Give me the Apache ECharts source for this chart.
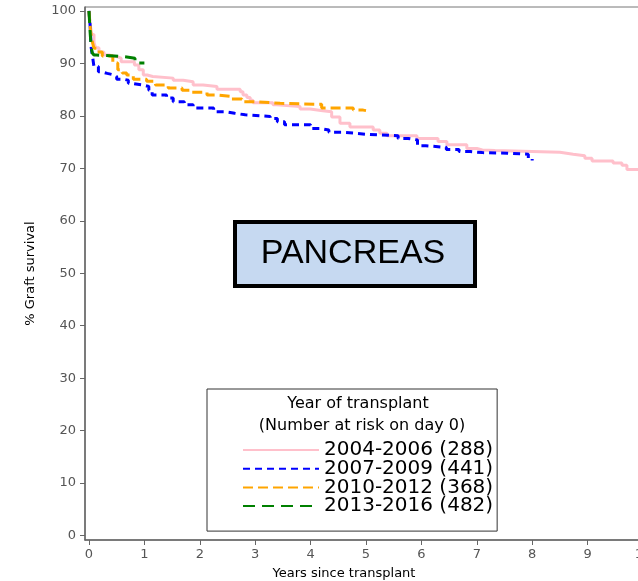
<!DOCTYPE html>
<html>
<head>
<meta charset="utf-8">
<script src="https://cdn.jsdelivr.net/npm/echarts@6/dist/echarts.min.js"></script>
<style>html,body{margin:0;padding:0;background:#fff}#c{width:638px;height:581px}</style>
</head>
<body>
<div id="c"></div>
<script>
const xTicks = [0,1,2,3,4,5,6,7,8,9,10];
const yTicks = [0,10,20,30,40,50,60,70,80,90,100];
const seriesNames = ['2004-2006 (288)','2007-2009 (441)','2010-2012 (368)','2013-2016 (482)'];

const s2004 = [[0,100],[0.02,97.5],[0.05,95.5],[0.09,94.0],[0.12,93.0],[0.18,92.2],[0.27,91.6],[0.36,91.3],[0.5,91.0],[0.58,90.3],[0.82,89.7],[0.9,88.8],[0.98,87.8],[1.05,87.5],[1.15,87.2],[1.52,86.8],[1.70,86.5],[1.88,85.9],[2.06,85.6],[2.31,85.1],[2.73,84.6],[2.78,84.0],[2.85,83.5],[2.91,83.0],[2.96,82.5],[3.32,82.1],[3.39,81.8],[3.81,81.3],[3.99,81.0],[4.22,80.8],[4.38,79.8],[4.53,78.6],[4.71,77.9],[5.13,77.3],[5.25,76.7],[5.38,76.2],[5.92,75.7],[6.30,75.1],[6.46,74.5],[6.82,73.8],[7.0,73.5],[7.1,73.4],[7.33,73.05],[8.5,72.7],[8.74,72.4],[8.95,71.9],[9.08,71.4],[9.46,71.0],[9.62,70.6],[9.71,69.8],[9.98,69.8]];
const s2007 = [[0,100],[0.02,97.3],[0.03,95],[0.04,93],[0.06,91.6],[0.09,89.4],[0.17,88.4],[0.23,88.1],[0.33,87.8],[0.45,87.5],[0.5,87.0],[0.62,86.8],[0.71,86.2],[0.78,85.9],[0.97,85.6],[1.08,84.9],[1.14,84.0],[1.40,83.4],[1.52,82.7],[1.72,82.1],[1.88,81.5],[2.25,80.8],[2.45,80.5],[2.63,80.2],[2.82,79.9],[3.27,79.5],[3.40,78.9],[3.53,78.3],[4.0,77.6],[4.18,77.3],[4.33,76.9],[4.56,76.7],[4.80,76.5],[5.0,76.2],[5.58,75.7],[5.76,75.4],[5.93,74.3],[6.08,74.0],[6.45,73.6],[6.68,73.2],[6.88,73.0],[7.1,72.9],[7.55,72.7],[7.93,71.9],[8.0,71.5]];
const s2010 = [[0,100],[0.01,98.5],[0.03,96],[0.06,94.1],[0.09,92.9],[0.14,92.2],[0.24,91.4],[0.43,90.1],[0.52,88.8],[0.6,88.2],[0.68,87.8],[0.8,87.0],[1.04,86.6],[1.2,85.9],[1.43,85.3],[1.68,84.9],[1.86,84.5],[2.13,84.0],[2.27,83.7],[2.58,83.2],[2.76,82.7],[3.03,82.4],[3.45,82.2],[4.2,81.5],[4.77,81.1],[4.95,81.0],[5.0,81.0]];
const s2013 = [[0,100],[0.01,98],[0.02,96],[0.03,94.5],[0.04,93],[0.06,92],[0.09,91.6],[0.13,91.3],[0.62,91.0],[0.83,90.5],[0.88,90.1],[1.0,90.1]];

const colors = ['#ffc0cb','#0000ff','#ffa500','#008000'];
const dashes = ['solid',[7,5],[10,5],[12,7]];
const data = [s2004,s2007,s2010,s2013];

const FONT = 'DejaVu Sans';
const chart = echarts.init(document.getElementById('c'), null, {renderer:'canvas'});
chart.setOption({
  animation:false,
  backgroundColor:'#fff',
  legend:{
    orient:'vertical', left:207, top:389,
    padding:[51,4,15,35],
    borderColor:'#333', borderWidth:1, backgroundColor:'#fff',
    itemWidth:76, itemHeight:14, itemGap:-1.3, itemTextGap:8,
    data:seriesNames,
    itemStyle:{color:'rgba(0,0,0,0)', borderWidth:0, borderColor:'rgba(0,0,0,0)'},
    textStyle:{fontFamily:FONT, fontSize:20, color:'#000'}
  },
  graphic:[
    {type:'rect', shape:{x:235, y:222, width:240, height:64},
     style:{fill:'#c6d9f1', stroke:'#000', lineWidth:4}, z:10},
    {type:'text', x:353, y:254, z:11,
     style:{text:'PANCREAS', fill:'#000', font:'34px "Liberation Sans"', textAlign:'center', textVerticalAlign:'middle'}},
    {type:'text', x:358, y:404, z:11,
     style:{text:'Year of transplant', fill:'#000', font:'16px "DejaVu Sans"', textAlign:'center', textVerticalAlign:'middle'}},
    {type:'text', x:362, y:426, z:11,
     style:{text:'(Number at risk on day 0)', fill:'#000', font:'16px "DejaVu Sans"', textAlign:'center', textVerticalAlign:'middle'}}
  ],
  grid:{left:85, right:-5, top:7, bottom:41, outerBoundsMode:'none', containLabel:false,
        show:true, borderColor:'#777', borderWidth:1, backgroundColor:'transparent'},
  xAxis:{
    type:'value', min:-0.072, max:10,
    name:'Years since transplant', nameLocation:'middle', nameGap:27,
    nameTextStyle:{fontFamily:FONT, fontSize:13, color:'#000', padding:[0,40,0,0]},
    axisLine:{show:true, onZero:false, lineStyle:{color:'#666', width:1.5}},
    axisTick:{show:true, length:5, lineStyle:{color:'#666'}, customValues:xTicks},
    axisLabel:{margin:8, color:'#555', fontFamily:FONT, fontSize:13, customValues:xTicks, formatter:v=>String(v)},
    splitLine:{show:false}
  },
  yAxis:{
    type:'value', min:-0.86, max:100.76,
    name:'% Graft survival', nameLocation:'middle', nameGap:48,
    nameTextStyle:{fontFamily:FONT, fontSize:13, color:'#000'},
    axisLine:{show:true, onZero:false, lineStyle:{color:'#666', width:1.5}},
    axisTick:{show:true, length:5, lineStyle:{color:'#666'}, customValues:yTicks},
    axisLabel:{margin:9, color:'#555', fontFamily:FONT, fontSize:13, customValues:yTicks, formatter:v=>String(v)},
    splitLine:{show:false}
  },
  series: seriesNames.map((n,i)=>({
    name:n, type:'line', step:'end', symbol:'none', data:data[i],
    lineStyle:{color:colors[i], width:3, type:dashes[i]},
    itemStyle:{color:colors[i]}
  }))
});
</script>
</body>
</html>
